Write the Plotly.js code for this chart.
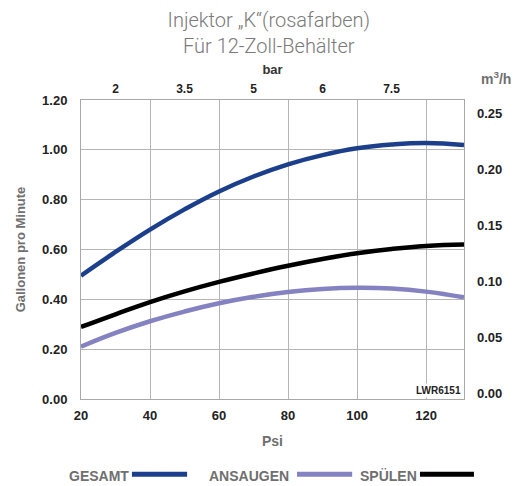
<!DOCTYPE html>
<html><head><meta charset="utf-8">
<script src="https://cdn.plot.ly/plotly-3.0.1.min.js"></script>
<style>html,body{margin:0;padding:0;background:#fff}#c{width:522px;height:486px}</style>
</head><body><div id="c"></div>
<script>
const psi = [20, 30, 40, 50, 60, 70, 80, 90, 100, 110, 120, 131];
const gesamt   = [0.495, 0.59, 0.68, 0.761, 0.833, 0.893, 0.942, 0.979, 1.006, 1.021, 1.027, 1.019];
const ansaugen = [0.21, 0.265, 0.312, 0.351, 0.384, 0.41, 0.429, 0.441, 0.446, 0.443, 0.431, 0.408];
const spuelen  = [0.289, 0.34, 0.389, 0.432, 0.47, 0.504, 0.535, 0.562, 0.585, 0.602, 0.614, 0.62];
const psiTicks = [20, 40, 60, 80, 100, 120];
const barTickPsi = [30, 50, 70, 90, 110];
const barTickText = ["2", "3.5", "5", "6", "7.5"];
const gpmTicks = [0, 0.2, 0.4, 0.6, 0.8, 1.0, 1.2];
const m3hTicks = [0, 0.05, 0.10, 0.15, 0.20, 0.25];
const names = ["GESAMT", "ANSAUGEN", "SPÜLEN"];
const colors = ["#1c3f8c", "#8482c0", "#000000"];

const traces = [
  {x: psi, y: gesamt, name: names[0], mode: 'lines', line: {color: colors[0], width: 4.5, shape: 'spline', smoothing: 1.3}},
  {x: psi, y: ansaugen, name: names[1], mode: 'lines', line: {color: colors[1], width: 4.5, shape: 'spline', smoothing: 1.3}},
  {x: psi, y: spuelen, name: names[2], mode: 'lines', line: {color: colors[2], width: 4.5, shape: 'spline', smoothing: 1.3}},
  {x: barTickPsi, y: barTickPsi.map(() => null), xaxis: 'x2', yaxis: 'y2', mode: 'lines', showlegend: false, hoverinfo: 'skip'}
];

const FAM = 'Liberation Sans, Arial';
const tickFont = {family: FAM, size: 13, color: '#222', weight: 'bold'};
const grayBold = {family: FAM, size: 13, color: '#6f6f6f', weight: 'bold'};
const legendFont = {family: FAM, size: 14, color: '#6f6f6f', weight: 'bold'};

const annotations = [
  {xref: 'paper', yref: 'paper', x: 1.084, y: 1.074, xanchor: 'center', yanchor: 'middle', text: 'm<sup>3</sup>/h', showarrow: false, font: {family: FAM, size: 14, color: '#6f6f6f', weight: 'bold'}},
  {xref: 'paper', yref: 'paper', x: 0.997, y: 0.005, xanchor: 'right', yanchor: 'bottom', text: 'LWR6151', showarrow: false, font: {family: FAM, size: 10, color: '#222', weight: 'bold'}, bgcolor: '#fff'}
];
const legendX = [[-0.037, 0.133, 0.277], [0.329, 0.564, 0.708], [0.723, 0.885, 1.026]];
const shapes = [];
names.forEach((n, i) => {
  annotations.push({xref: 'paper', yref: 'paper', x: legendX[i][0], y: -0.257, xanchor: 'left', yanchor: 'middle', text: n, showarrow: false, font: legendFont});
  shapes.push({type: 'line', xref: 'paper', yref: 'paper', x0: legendX[i][1], x1: legendX[i][2], y0: -0.252, y1: -0.252, line: {color: colors[i], width: 5}});
});

const layout = {
  width: 522, height: 486,
  margin: {l: 81, r: 58, t: 100, b: 87},
  paper_bgcolor: '#fff', plot_bgcolor: '#fff',
  showlegend: false,
  title: {text: 'Injektor „K“(rosafarben)<br>Für 12-Zoll-Behälter', x: 0.515, xanchor: 'center', yref: 'container', y: 0.944, yanchor: 'middle',
          font: {family: 'Roboto', size: 20, color: '#7a7a7a', weight: 300}},
  xaxis: {range: [20, 131], tickvals: psiTicks, showgrid: true, gridcolor: '#b5b5b5', gridwidth: 1,
          showline: true, linecolor: '#a8a8a8', linewidth: 1, mirror: true, zeroline: false, ticks: '',
          tickfont: tickFont, ticklabelstandoff: 4,
          title: {text: 'Psi', font: {family: FAM, size: 14, color: '#6f6f6f', weight: 'bold'}, standoff: 14}},
  xaxis2: {overlaying: 'x', side: 'top', range: [20, 131], tickvals: barTickPsi, ticktext: barTickText,
           showgrid: false, zeroline: false, ticks: '', showline: false, tickfont: {family: FAM, size: 12, color: '#222', weight: 'bold'},
           ticklabelstandoff: 4,
           title: {text: 'bar', font: {family: FAM, size: 13, color: '#333', weight: 'bold'}, standoff: 4}},
  yaxis: {range: [0, 1.2], tickvals: gpmTicks, tickformat: '.2f', showgrid: true, gridcolor: '#b5b5b5', gridwidth: 1,
          showline: true, linecolor: '#a8a8a8', linewidth: 1, mirror: true, zeroline: false, ticks: '',
          tickfont: tickFont, ticklabelstandoff: 10,
          title: {text: 'Gallonen pro Minute', font: grayBold, standoff: 13}},
  yaxis2: {overlaying: 'y', side: 'right', range: [-0.0054, 0.2616], tickvals: m3hTicks, tickformat: '.2f',
           showgrid: false, zeroline: false, ticks: '', showline: false, tickfont: tickFont, ticklabelstandoff: 12},
  annotations: annotations,
  shapes: shapes
};

Plotly.newPlot('c', traces, layout, {displayModeBar: false, staticPlot: true});
</script>
</body></html>
